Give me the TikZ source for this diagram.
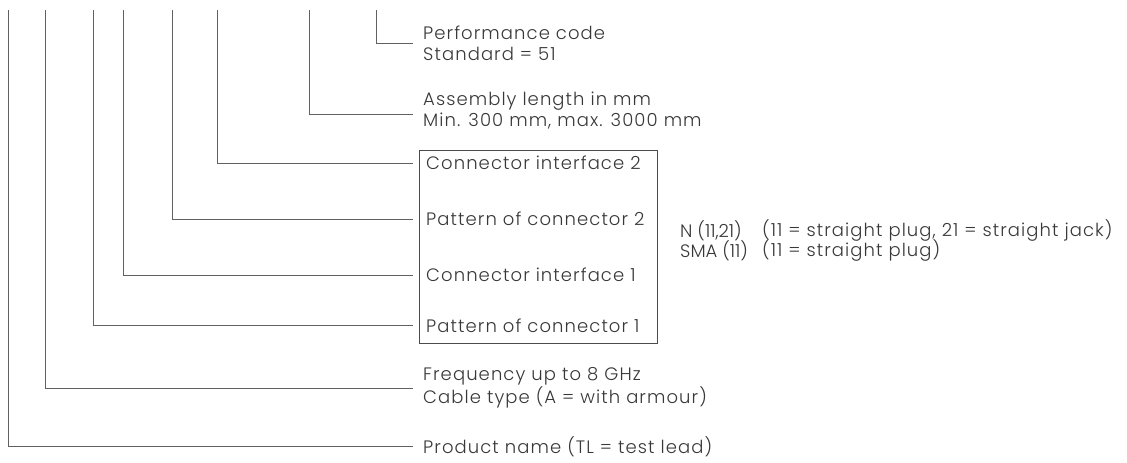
\documentclass[tikz,border=0pt]{standalone}
\usepackage{fontspec}
\setmainfont{Poppins}[UprightFont=* Light, LetterSpace=6]
\begin{document}
\begin{tikzpicture}[x=1pt,y=-1pt,
  lead/.style={draw=black!62, line width=0.9pt},
  lbl/.style={anchor=west, inner xsep=0pt, inner ysep=0pt, text=black!78,
    font=\fontsize{18}{21}\selectfont, align=left},
  tight/.style={font=\fontsize{18}{21}\selectfont\addfontfeature{LetterSpace=0}},
  boxframe/.style={draw=black!70, line width=0.8pt}]
\useasboundingbox (0,0) rectangle (1127,463);
% frame box
\draw[boxframe] (419,150) rectangle (657,343);
% labels
\node[lbl] (perf) at (423,43) {Performance code\\Standard = 51};
\node[lbl] (asm)  at (423,111) {Assembly length in mm\\Min. 300 mm, max. 3000 mm};
\node[lbl] (ci2)  at (426,163) {Connector interface 2};
\node[lbl] (pc2)  at (426,219) {Pattern of connector 2};
\node[lbl] (ci1)  at (426,275) {Connector interface 1};
\node[lbl] (pc1)  at (426,326) {Pattern of connector 1};
\node[lbl] (freq) at (423,388) {Frequency up to 8 GHz\\Cable type (A = with armour)};
\node[lbl] (prod) at (423,447) {Product name (TL = test lead)};
\node[lbl,tight] (n)   at (680,231) {N (11,21)};
\node[lbl,tight] (sma) at (680,251) {SMA (11)};
\node[lbl] (nd)   at (762,231) {(11 = straight plug, 21 = straight jack)};
\node[lbl] (smad) at (762,251) {(11 = straight plug)};
% line ends
\coordinate (eperf) at (413,43);
\coordinate (easm)  at (413,114);
\coordinate (eci2)  at (413,163);
\coordinate (epc2)  at (413,219);
\coordinate (eci1)  at (413,275);
\coordinate (epc1)  at (413,325);
\coordinate (efreq) at (413,388);
\coordinate (eprod) at (413,446);
% tops
\coordinate (tprod) at (8.5,10);
\coordinate (tfreq) at (45,10);
\coordinate (tpc1)  at (93,10);
\coordinate (tci1)  at (123,10);
\coordinate (tpc2)  at (172,10);
\coordinate (tci2)  at (217,10);
\coordinate (tasm)  at (309,10);
\coordinate (tperf) at (376,10);
% leaders
\draw[lead] (tperf) |- (eperf);
\draw[lead] (tasm)  |- (easm);
\draw[lead] (tci2)  |- (eci2);
\draw[lead] (tpc2)  |- (epc2);
\draw[lead] (tci1)  |- (eci1);
\draw[lead] (tpc1)  |- (epc1);
\draw[lead] (tfreq) |- (efreq);
\draw[lead] (tprod) |- (eprod);
\end{tikzpicture}
\end{document}
